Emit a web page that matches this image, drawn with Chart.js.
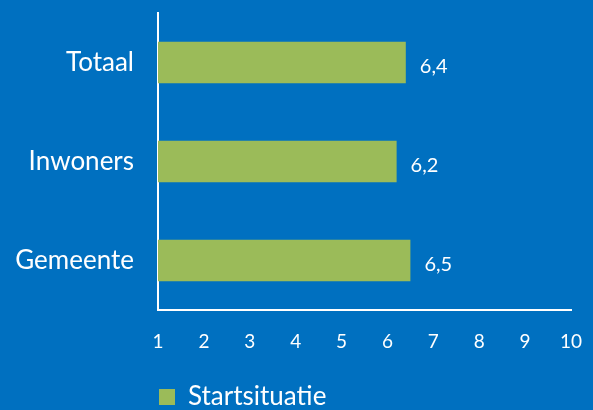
<!DOCTYPE html>
<html>
<head>
<meta charset="utf-8">
<script src="https://cdn.jsdelivr.net/npm/chart.js@4"></script>
<style>
  html, body { margin: 0; padding: 0; background: #0070c0; }
  #wrap { width: 593px; height: 410px; }
</style>
</head>
<body>
<div id="wrap"><canvas id="chart_canvas" width="593" height="410"></canvas></div>
<script>
var categories = ['Totaal', 'Inwoners', 'Gemeente'];
var start_values = [6.4, 6.2, 6.5];
var series_label = 'Startsituatie';
var tick_values = [1, 2, 3, 4, 5, 6, 7, 8, 9, 10];

var bar_green = '#9bbb59', white = '#ffffff';
var font_family = 'Lato, "Open Sans", sans-serif';

// writes 6,4 style labels next to each bar
var valueLabels = {
    id: 'valueLabels',
    afterDatasetsDraw: function(chart){
        var ctx = chart.ctx;
        var meta = chart.getDatasetMeta(0);
        ctx.save();
        ctx.fillStyle = white;
        ctx.font = '20px ' + font_family;
        ctx.textBaseline = 'middle';
        ctx.textAlign = 'left';
        for (var i = 0; i < meta.data.length; i++){
            var bar = meta.data[i];
            var txt = String(start_values[i]).replace('.', ',');
            ctx.fillText(txt, bar.x + 14, bar.y + 4);
        }
        ctx.restore();
    }
};

var chart_ctx = document.getElementById('chart_canvas').getContext('2d');
var startchart = new Chart(chart_ctx, {
    type: 'bar',
    data: {
        labels: categories,
        datasets: [{
            label: series_label,
            data: start_values,
            backgroundColor: bar_green,
            borderWidth: 0,
            barPercentage: 0.42,
            categoryPercentage: 1
        }]
    },
    options: {
        indexAxis: 'y',
        responsive: false,
        animation: false,
        devicePixelRatio: 1,
        layout: { padding: { top: 13, right: 22, left: 0, bottom: -10 } },
        scales: {
            x: {
                min: 1,
                max: 10,
                afterBuildTicks: function(scale){
                    scale.ticks = tick_values.map(function(v){ return {value: v}; });
                },
                afterFit: function(scale){
                    scale.height = 73;
                    scale.paddingLeft = 0;
                    scale.paddingRight = 0;
                },
                grid: { display: false, drawTicks: false },
                border: { display: true, color: white, width: 2 },
                ticks: {
                    color: white,
                    padding: 20,
                    maxRotation: 0,
                    font: { family: font_family, size: 19 }
                }
            },
            y: {
                afterFit: function(scale){
                    scale.width = 158;
                    scale.paddingTop = 0;
                    scale.paddingBottom = 0;
                },
                grid: { display: false, drawTicks: false },
                border: { display: true, color: white, width: 2 },
                ticks: {
                    color: white,
                    padding: 24,
                    font: { family: font_family, size: 26 }
                }
            }
        },
        plugins: {
            legend: {
                position: 'bottom',
                align: 'start',
                fullSize: false,
                labels: {
                    color: white,
                    boxWidth: 16,
                    boxHeight: 16,
                    padding: 1,
                    font: { family: font_family, size: 26 }
                }
            },
            tooltip: { enabled: false }
        }
    },
    plugins: [valueLabels]
});
</script>
</body>
</html>
